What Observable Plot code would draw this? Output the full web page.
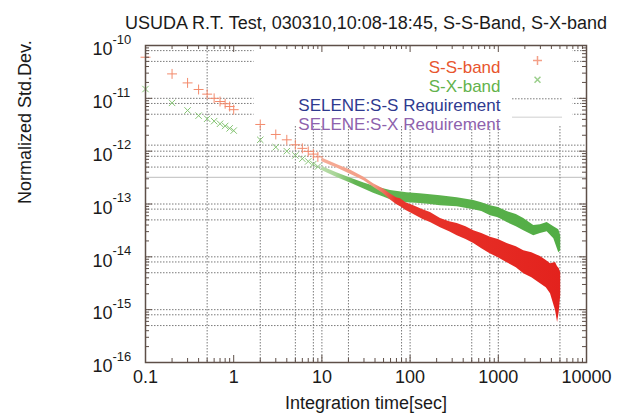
<!DOCTYPE html>
<html>
<head>
<meta charset="utf-8">
<script src="https://cdn.jsdelivr.net/npm/d3@7"></script>
<script src="https://cdn.jsdelivr.net/npm/@observablehq/plot@0.6"></script>
<style>
  body { margin: 0; background: #fff; }
  #chart svg { display: block; }
</style>
</head>
<body>
<div id="chart"></div>
<script>
// ---------------- texts ----------------
const titleText = "USUDA R.T. Test, 030310,10:08-18:45, S-S-Band, S-X-band";
const xLabelText = "Integration time[sec]";
const yLabelText = "Normalized Std.Dev.";
const legendLabels = ["S-S-band", "S-X-band", "SELENE:S-S Requirement", "SELENE:S-X Requirement"];

// ---------------- ticks ----------------
const xTicks = [0.1, 1, 10, 100, 1000, 10000];
const xTickLabels = ["0.1", "1", "10", "100", "1000", "10000"];
const yTicks = [1e-16, 1e-15, 1e-14, 1e-13, 1e-12, 1e-11, 1e-10];
const yTickExponents = ["-16", "-15", "-14", "-13", "-12", "-11", "-10"];

// ---------------- grid / requirement lines ----------------
const gridY = [8e-11, 5e-11, 1e-11, 8e-12, 5e-12, 1.3e-12, 1e-12, 8e-13, 5e-13,
               1e-13, 8e-14, 5e-14, 1e-14, 8e-15, 5e-15, 1e-15, 8e-16, 5e-16];
const reqSolidY = [3.2e-13];
const gridX = [0.5, 2, 5, 8, 10, 20, 80, 100, 500, 800, 1000, 5000];

// ---------------- S-S band: discrete points ----------------
const ssTau = [0.1, 0.2, 0.3, 0.4, 0.5, 0.6, 0.7, 0.8, 0.9, 1.0, 2, 3, 4, 5, 6, 7, 8, 9];
const ssVal = [6.0e-11, 2.9e-11, 1.96e-11, 1.47e-11, 1.2e-11, 1.0e-11, 8.7e-12, 7.9e-12, 7.0e-12, 6.1e-12,
               3.2e-12, 2.07e-12, 1.64e-12, 1.32e-12, 1.13e-12, 9.9e-13, 8.8e-13, 7.8e-13];

// ---------------- S-X band: discrete points ----------------
const sxTau = [0.1, 0.2, 0.3, 0.4, 0.5, 0.6, 0.7, 0.8, 0.9, 1.0, 2, 3, 4, 5, 6, 7, 8, 9];
const sxVal = [1.5e-11, 8.2e-12, 5.9e-12, 4.7e-12, 4.1e-12, 3.7e-12, 3.3e-12, 3.0e-12, 2.7e-12, 2.45e-12,
               1.64e-12, 1.19e-12, 1.0e-12, 8.3e-13, 7.2e-13, 6.4e-13, 5.7e-13, 5.1e-13];

// ---------------- S-S band: dense scatter envelope (tau >= 10) ----------------
const ssBandTau = [10, 15, 21, 30, 38.5, 50, 60, 70, 78, 90, 110, 140, 170, 221, 280, 342, 430, 527, 650, 816,
                   1000, 1259, 1600, 1945, 2400, 3006, 3500, 3908, 4455, 4700, 4900, 5100];
const ssBandHi  = [7.4e-13, 5.55e-13, 4.4e-13, 3.2e-13, 2.42e-13, 1.93e-13, 1.54e-13, 1.32e-13, 1.26e-13, 1.06e-13,
                   9.3e-14, 7.8e-14, 6.9e-14, 5.3e-14, 4.6e-14, 4.26e-14, 3.73e-14, 3.13e-14, 2.75e-14, 2.34e-14,
                   2.12e-14, 1.78e-14, 1.56e-14, 1.31e-14, 1.2e-14, 1.01e-14, 8.5e-15, 7.4e-15, 7.8e-15, 6.5e-15, 6.0e-15, 5.0e-15];
const ssBandLo  = [6.3e-13, 4.75e-13, 3.65e-13, 2.75e-13, 2.08e-13, 1.56e-13, 1.19e-13, 9.75e-14, 8.9e-14, 7.5e-14,
                   6.3e-14, 5.07e-14, 4.45e-14, 3.57e-14, 3.0e-14, 2.52e-14, 2.12e-14, 1.78e-14, 1.43e-14, 1.13e-14,
                   9.66e-15, 7.76e-15, 6.24e-15, 4.8e-15, 4.04e-15, 3.1e-15, 2.6e-15, 2.0e-15, 9.6e-16, 5.7e-16, 8.8e-16, 1.84e-15];

// ---------------- S-X band: dense scatter envelope (tau >= 10) ----------------
const sxBandTau = [10, 15, 21, 30, 38.5, 50, 60, 92, 130, 170, 221, 342, 527, 650, 816, 1000, 1259, 1600, 1945,
                   2524, 3006, 3583, 4260, 4850, 5100];
const sxBandHi  = [5.1e-13, 3.85e-13, 3.1e-13, 2.5e-13, 2.2e-13, 1.94e-13, 1.8e-13, 1.64e-13, 1.57e-13, 1.5e-13,
                   1.44e-13, 1.32e-13, 1.16e-13, 1.06e-13, 9.3e-14, 8.55e-14, 7.2e-14, 6.3e-14, 5.3e-14,
                   3.9e-14, 4.07e-14, 4.45e-14, 3.73e-14, 3.27e-14, 2.52e-14];
const sxBandLo  = [4.3e-13, 3.15e-13, 2.5e-13, 1.92e-13, 1.6e-13, 1.35e-13, 1.21e-13, 1.06e-13, 1.02e-13, 9.75e-14,
                   9.3e-14, 8.9e-14, 7.8e-14, 7.2e-14, 6.0e-14, 5.5e-14, 4.45e-14, 3.73e-14, 3.13e-14,
                   2.52e-14, 2.75e-14, 3.0e-14, 2.21e-14, 1.2e-14, 1.31e-14];

// ---------------- build tables ----------------
const ssPts = ssTau.map((t, i) => ({tau: t, v: ssVal[i]}));
const sxPts = sxTau.map((t, i) => ({tau: t, v: sxVal[i]}));
const ssBand = ssBandTau.map((t, i) => ({tau: t, lo: ssBandLo[i], hi: ssBandHi[i]}));
const sxBand = sxBandTau.map((t, i) => ({tau: t, lo: sxBandLo[i], hi: sxBandHi[i]}));

const decadesX = [0.1, 1, 10, 100, 1000];
const minorX = decadesX.flatMap(d => [2, 3, 4, 5, 6, 7, 8, 9].map(k => k * d));
const decadesY = [1e-16, 1e-15, 1e-14, 1e-13, 1e-12, 1e-11];
const minorY = decadesY.flatMap(d => [2, 3, 4, 5, 6, 7, 8, 9].map(k => k * d));

// ---------------- layout ----------------
const W = 630, H = 420;
const mL = 145, mR = 44, mT = 45, mB = 58;
const iw = W - mL - mR, ih = H - mT - mB;
const frameColor = "#5e4f48";
const gridColor = "#7a7a7a";
const gridDash = "1.5,1.5";
const font = "'Liberation Sans', Arial, Helvetica, sans-serif";
const textColor = "#1a1a1a";

const legendRows = [15.0, 34.2, 53.4, 72.6];
const legendSize = 17;

const plot = Plot.plot({
  width: W, height: H,
  marginLeft: mL, marginRight: mR, marginTop: mT, marginBottom: mB,
  x: {type: "log", domain: [0.1, 10000], axis: null},
  y: {type: "log", domain: [1e-16, 1e-10], axis: null},
  style: {fontFamily: font, background: "#fff", color: textColor, overflow: "visible"},
  marks: [
    // grid & requirement lines
    Plot.ruleY(gridY, {y: d => d, stroke: gridColor, strokeWidth: 1, strokeDasharray: gridDash}),
    Plot.ruleY(reqSolidY, {y: d => d, stroke: "#bdbdbd", strokeWidth: 1}),
    Plot.ruleX(gridX, {x: d => d, stroke: gridColor, strokeWidth: 1, strokeDasharray: gridDash}),
    // legend box
    Plot.rect([0], {x1: 1.7, x2: 7000, y1: 3.05e-12, y2: 1e-10, fill: "#fff"}),
    // dense scatter bands
    Plot.areaY(sxBand, {x: "tau", y1: "lo", y2: "hi", fill: "url(#sxGrad)", curve: "linear"}),
    Plot.areaY(ssBand, {x: "tau", y1: "lo", y2: "hi", fill: "url(#ssGrad)", curve: "linear"}),
    // discrete points
    Plot.dot(sxPts, {x: "tau", y: "v", symbol: "times", r: 3.0, stroke: "#86c574", strokeWidth: 1, fill: "none"}),
    Plot.dot(ssPts, {x: "tau", y: "v", symbol: "plus", r: 3.3, stroke: "#f38a6c", strokeWidth: 1, fill: "none"}),
    // inner ticks
    Plot.tickX(xTicks, {x: d => d, insetTop: ih - 7, stroke: frameColor}),
    Plot.tickX(xTicks, {x: d => d, insetBottom: ih - 7, stroke: frameColor}),
    Plot.tickX(minorX, {x: d => d, insetTop: ih - 4, stroke: frameColor}),
    Plot.tickX(minorX, {x: d => d, insetBottom: ih - 4, stroke: frameColor}),
    Plot.tickY(yTicks, {y: d => d, insetRight: iw - 7, stroke: frameColor}),
    Plot.tickY(yTicks, {y: d => d, insetLeft: iw - 7, stroke: frameColor}),
    Plot.tickY(minorY, {y: d => d, insetRight: iw - 4, stroke: frameColor}),
    Plot.tickY(minorY, {y: d => d, insetLeft: iw - 4, stroke: frameColor}),
    Plot.frame({stroke: frameColor, strokeWidth: 1.5}),
    // tick labels
    Plot.text(xTicks, {x: d => d, text: (d, i) => xTickLabels[i], frameAnchor: "bottom", dy: 20, fontSize: 18, fill: textColor}),
    Plot.text(yTicks, {y: d => d, text: () => "10", frameAnchor: "left", textAnchor: "end", dx: -33, dy: 4, fontSize: 18, fill: textColor}),
    Plot.text(yTicks, {y: d => d, text: (d, i) => yTickExponents[i], frameAnchor: "left", textAnchor: "start", dx: -33, dy: -6, fontSize: 13, fill: textColor}),
    // titles
    Plot.text([titleText], {frameAnchor: "top", dy: -29, fontSize: 18, fill: textColor}),
    Plot.text([xLabelText], {frameAnchor: "bottom", dy: 46, fontSize: 18, fill: textColor}),
    Plot.text([yLabelText], {frameAnchor: "left", dx: -120, rotate: -90, fontSize: 18, fill: textColor}),
    // legend
    Plot.text([legendLabels[0]], {frameAnchor: "top-right", textAnchor: "end", dx: -86, dy: legendRows[0], fontSize: legendSize, fill: "#e8552e"}),
    Plot.text([legendLabels[1]], {frameAnchor: "top-right", textAnchor: "end", dx: -86, dy: legendRows[1], fontSize: legendSize, fill: "#63b24c"}),
    Plot.text([legendLabels[2]], {frameAnchor: "top-right", textAnchor: "end", dx: -86, dy: legendRows[2], fontSize: legendSize, fill: "#2f3a8f"}),
    Plot.text([legendLabels[3]], {frameAnchor: "top-right", textAnchor: "end", dx: -86, dy: legendRows[3], fontSize: legendSize, fill: "#8e62ad"}),
    Plot.dot([0], {frameAnchor: "top-right", dx: -49, dy: legendRows[0], symbol: "plus", r: 3.0, stroke: "#f4a088", fill: "none"}),
    Plot.dot([0], {frameAnchor: "top-right", dx: -49, dy: legendRows[1], symbol: "times", r: 2.8, stroke: "#9bcf8c", fill: "none"}),
    Plot.ruleY([9.8e-12], {x1: 1450, x2: 5350, stroke: gridColor, strokeDasharray: gridDash}),
    Plot.ruleY([4.4e-12], {x1: 1450, x2: 5350, stroke: "#cfcfcf"})
  ]
});

document.getElementById("chart").appendChild(plot);

// gradients for the dense-scatter bands (lighter where markers are sparse)
const svg = d3.select(plot);
const defs = svg.insert("defs", ":first-child");
const ssG = defs.append("linearGradient").attr("id", "ssGrad").attr("x1", 0).attr("x2", 1).attr("y1", 0).attr("y2", 0);
ssG.append("stop").attr("offset", 0).attr("stop-color", "#f6ad98");
ssG.append("stop").attr("offset", 0.22).attr("stop-color", "#f29a82");
ssG.append("stop").attr("offset", 0.31).attr("stop-color", "#e8362c");
ssG.append("stop").attr("offset", 1).attr("stop-color", "#e3221d");
const sxG = defs.append("linearGradient").attr("id", "sxGrad").attr("x1", 0).attr("x2", 1).attr("y1", 0).attr("y2", 0);
sxG.append("stop").attr("offset", 0).attr("stop-color", "#b9dcaa");
sxG.append("stop").attr("offset", 0.06).attr("stop-color", "#a8d597");
sxG.append("stop").attr("offset", 0.14).attr("stop-color", "#62b552");
sxG.append("stop").attr("offset", 1).attr("stop-color", "#52ad45");
</script>
</body>
</html>
